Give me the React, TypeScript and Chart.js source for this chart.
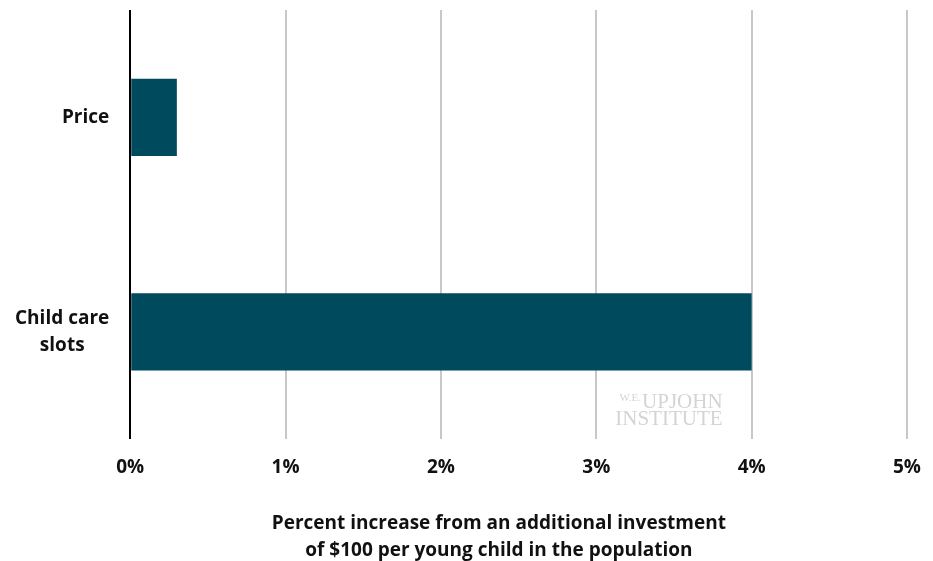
import React, { useEffect, useRef } from "react";
import { Chart, registerables } from "chart.js";

Chart.register(...registerables);

const categories: (string | string[])[] = ["Price", ["Child care", "slots\u00A0\u00A0\u00A0\u00A0\u00A0"]];
const values: number[] = [0.3, 4.0];
const xTicks: number[] = [0, 1, 2, 3, 4, 5];
const titlePad = "\u00A0".repeat(8);
const axisTitle: string[] = [
  "Percent increase from an additional investment" + titlePad,
  "of $100 per young child in the population" + titlePad,
];

const FONT = "'Open Sans', 'Noto Sans', sans-serif";

const watermark = {
  id: "watermark",
  afterDraw(chart: any) {
    const { ctx, chartArea } = chart;
    const xs = chart.scales.x;
    const right = xs.getPixelForValue(3.8) + 2;
    const base = chartArea.bottom;
    ctx.save();
    ctx.fillStyle = "#d4d4d4";
    ctx.textAlign = "right";
    ctx.textBaseline = "alphabetic";
    ctx.font = "21px 'Liberation Serif', 'DejaVu Serif', serif";
    ctx.fillText("INSTITUTE", right, base - 14);
    ctx.fillText("UPJOHN", right, base - 31);
    const w = ctx.measureText("UPJOHN").width;
    ctx.font = "11px 'Liberation Serif', 'DejaVu Serif', serif";
    ctx.fillText("W.E.", right - w - 1, base - 38);
    ctx.restore();
  },
};

export default function App() {
  const ref = useRef<HTMLCanvasElement | null>(null);
  useEffect(() => {
    if (!ref.current) return;
    const chart = new Chart(ref.current, {
      type: "bar",
      data: {
        labels: categories,
        datasets: [
          {
            data: values,
            backgroundColor: "#004a5e",
            borderWidth: 0,
            categoryPercentage: 1,
            barPercentage: 0.36,
          },
        ],
      },
      options: {
        indexAxis: "y",
        responsive: false,
        animation: false,
        devicePixelRatio: 1,
        layout: { padding: { left: -6, right: 26, top: 10, bottom: -3 } },
        plugins: {
          legend: { display: false },
          tooltip: { enabled: false },
        },
        scales: {
          x: {
            min: 0,
            max: 5,
            afterBuildTicks: (scale: any) => {
              scale.ticks = xTicks.map((v) => ({ value: v }));
            },
            afterFit: (scale: any) => {
              scale.paddingLeft = 0;
              scale.paddingRight = 0;
            },
            ticks: {
              callback: (v: any) => `${v}%`,
              color: "#111",
              font: { family: FONT, size: 19, weight: "bold", lineHeight: 1.2 },
              padding: 17,
            },
            grid: {
              drawTicks: false,
              lineWidth: 2,
              color: (ctx: any) => (ctx.tick && ctx.tick.value === 0 ? "#000" : "#c8c8c8"),
            },
            border: { display: false },
            title: {
              display: true,
              text: axisTitle,
              color: "#111",
              font: { family: FONT, size: 19, weight: "bold", lineHeight: 1.42 },
              padding: { top: 14, bottom: 0 },
            },
          },
          y: {
            afterFit: (scale: any) => {
              scale.paddingTop = 0;
              scale.paddingBottom = 0;
            },
            grid: { display: false, drawTicks: false },
            border: { display: false },
            ticks: {
              color: "#111",
              font: { family: FONT, size: 19, weight: "bold", lineHeight: 1.42 },
              padding: 21,
            },
          },
        },
      },
      plugins: [watermark],
    });
    return () => chart.destroy();
  }, []);
  return (
    <div style={{ position: "fixed", left: 0, top: 0, width: 933, height: 561, background: "#fff" }}>
      <canvas ref={ref} width={933} height={561} />
    </div>
  );
}
